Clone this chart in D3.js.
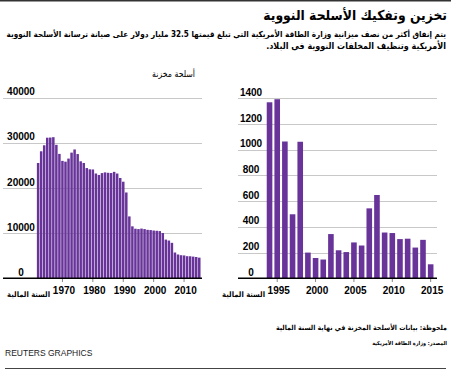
<!DOCTYPE html>
<html>
<head>
<meta charset="utf-8">
<script src="https://cdn.jsdelivr.net/npm/d3@7"></script>
<style>
  body { margin: 0; background: #fff; }
  svg { display: block; font-family: Arial, "Liberation Sans", "DejaVu Sans", sans-serif; }
  .ar { font-family: "DejaVu Sans Condensed", "DejaVu Sans", sans-serif; }
</style>
</head>
<body>
<div id="main"></div>
<script>
// stockpiled weapons, fiscal years 1962-2015
const stockYears = d3.range(1962, 2016);
const stockValues = [
  25540, 28133, 29463, 31139, 31175, 31255, 29561, 27552, 26008, 25830,
  26516, 27835, 28537, 27519, 25914, 25542, 24418, 24138, 24104, 23208,
  22886, 23305, 23459, 23368, 23317, 23575, 23205, 22217, 21392, 19008,
  13708, 11511, 10979, 10904, 11011, 10903, 10732, 10685, 10577, 10526,
  10457, 10027, 8570, 8360, 7853, 5709, 5273, 5113, 5066, 4897,
  4881, 4804, 4717, 4571
];
// dismantled weapons, fiscal years 1994-2015
const dismYears = d3.range(1994, 2016);
const dismValues = [
  1369, 1393, 1064, 498, 1062, 200, 158, 146, 344, 218, 204,
  279, 255, 544, 648, 356, 352, 305, 308, 239, 299, 109
];
const stockTicks = [0, 10000, 20000, 30000, 40000];
const dismTicks = [0, 200, 400, 600, 800, 1000, 1200, 1400];
const stockYearTicks = [1970, 1980, 1990, 2000, 2010];
const dismYearTicks = [1995, 2000, 2005, 2010, 2015];

const width = 451;
const height = 378;
const purple = "#68349a";

const svg = d3.select("#main").append("svg").attr("width", width).attr("height", height);

// arabic text anchored at its right edge; font size shrunk so it takes the width seen in the reference
function arText(x, y, str, size, weight, w) {
  const t = svg.append("text").attr("class", "ar")
    .attr("x", x).attr("y", y)
    .attr("text-anchor", "end")
    .style("font-size", size + "px").style("font-weight", weight)
    .text(str);
  const natural = t.node().getComputedTextLength();
  if (w && natural > w) t.style("font-size", (size * w / natural).toFixed(2) + "px");
  return t;
}

// top and bottom rules
svg.append("rect").attr("x", 0).attr("y", 0).attr("width", width).attr("height", 1.5).attr("fill", "#333");
svg.append("line").attr("x1", 5).attr("x2", 446).attr("y1", 368.5).attr("y2", 368.5)
  .attr("stroke", "#444").attr("stroke-width", 1);

// title + intro
arText(447, 20, "تخزين وتفكيك الأسلحة النووية", 20, "bold", 184);
arText(446, 37, "يتم إنفاق أكثر من نصف ميزانية وزارة الطاقة الأمريكية التي تبلغ قيمتها 32.5 مليار دولار على صيانة ترسانة الأسلحة النووية", 9.5, "bold", 440);
arText(446, 49, "\u200Fالأمريكية وتنظيف المخلفات النووية في البلاد.\u200F", 9.5, "bold", 180);

arText(195, 77, "أسلحة مخزنة", 9, "normal", 43);

// generic bar panel
function drawPanel(opts) {
  const g = svg.append("g");
  const x = d3.scaleBand().domain(opts.years).range(opts.xRange)
    .paddingInner(opts.padIn).paddingOuter(opts.padIn / 2);
  const y = d3.scaleLinear().domain([0, opts.max]).range([278.3, opts.top]);

  // grid
  g.selectAll(".grid").data(opts.ticks.filter(d => d > 0)).enter().append("line")
    .attr("x1", opts.gridX[0]).attr("x2", opts.gridX[1])
    .attr("y1", d => Math.round(y(d)) + 0.5).attr("y2", d => Math.round(y(d)) + 0.5)
    .attr("stroke", "#c8c8c8").attr("stroke-width", 1);

  g.selectAll(".ylab").data(opts.ticks).enter().append("text")
    .attr("x", opts.labelX).attr("y", d => y(d) - 2.5)
    .attr("text-anchor", "middle")
    .style("font-size", "10px").style("font-weight", "bold")
    .text(d => d);

  // bars
  g.selectAll(".bar").data(opts.values).enter().append("rect")
    .attr("x", (d, i) => x(opts.years[i]))
    .attr("width", x.bandwidth())
    .attr("y", d => y(d))
    .attr("height", d => y(0) - y(d))
    .attr("fill", purple);

  // x axis
  const axis = d3.axisBottom(x).tickValues(opts.yearTicks).tickSize(3).tickSizeOuter(0);
  const ax = g.append("g").attr("transform", "translate(0,279)").call(axis);
  ax.select(".domain").remove();
  ax.selectAll(".tick line").attr("stroke", "#888");
  ax.selectAll(".tick text")
    .attr("y", 8).attr("dx", "1.5")
    .style("font-family", "Arial, 'Liberation Sans', sans-serif")
    .style("font-size", "10px").style("font-weight", "bold").attr("fill", "#000");

  g.append("line").attr("x1", opts.gridX[0]).attr("x2", opts.gridX[1])
    .attr("y1", 278.3).attr("y2", 278.3).attr("stroke", "#000").attr("stroke-width", 1.6);

  arText(opts.axisNameX, 297, "السنة المالية", 8.5, "bold", 43);
}

drawPanel({
  years: stockYears, values: stockValues, max: 40000, top: 97.7,
  xRange: [36.6, 200.8], padIn: 0.18, ticks: stockTicks, yearTicks: stockYearTicks,
  gridX: [3, 202], labelX: 21, axisNameX: 50
});

drawPanel({
  years: dismYears, values: dismValues, max: 1400, top: 98.3,
  xRange: [265.7, 434.5], padIn: 0.27, ticks: dismTicks, yearTicks: dismYearTicks,
  gridX: [238, 437], labelX: 251, axisNameX: 265
});

// notes
arText(447, 330, "ملحوظة: بيانات الأسلحة المخزنة في نهاية السنة المالية", 8, "bold", 171);
arText(447, 345, "المصدر: وزارة الطاقة الأمريكية", 8, "bold", 75);

svg.append("text").attr("x", 5).attr("y", 356)
  .style("font-size", "8.5px").style("fill", "#222")
  .text("REUTERS GRAPHICS");
</script>
</body>
</html>
